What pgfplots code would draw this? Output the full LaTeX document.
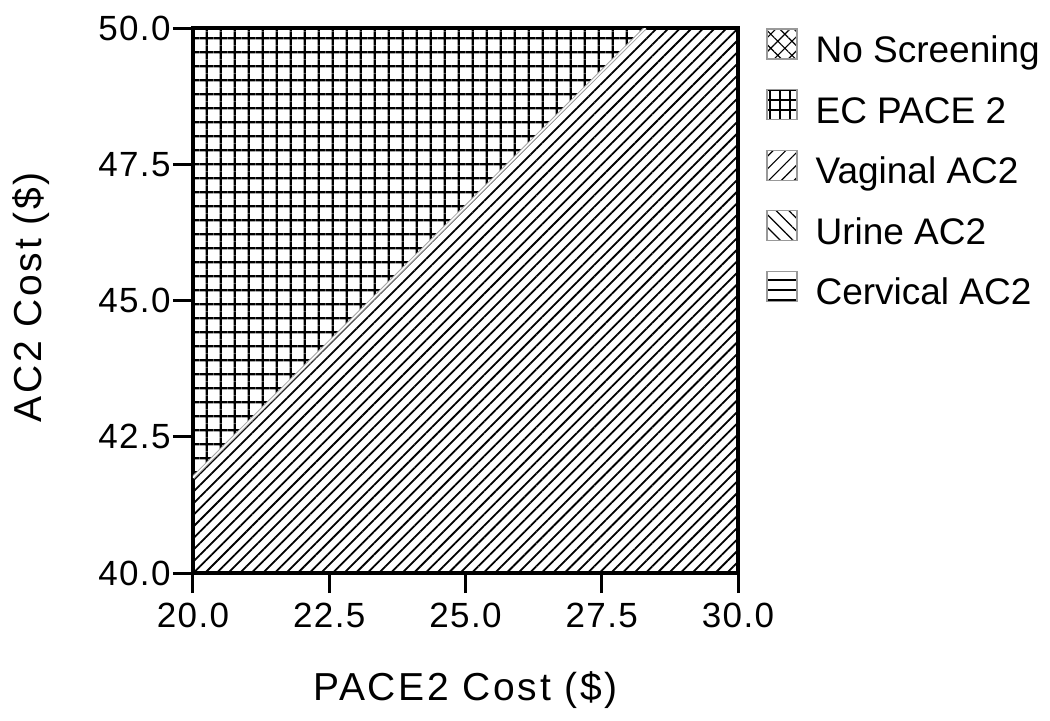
\documentclass[border=0pt]{standalone}
\usepackage{fontspec}
\setmainfont{Liberation Sans}
\usepackage{pgfplots}
\pgfplotsset{compat=1.18}
\usetikzlibrary{patterns.meta}
\begin{document}
\begin{tikzpicture}
\useasboundingbox (-96.5pt,-73.5pt) rectangle (428.5pt,286.5pt);
\begin{axis}[
  at={(0,0)}, anchor=south west,
  scale only axis, width=272.5pt, height=272.5pt,
  xmin=20, xmax=30, ymin=40, ymax=50,
  xtick={20,22.5,25,27.5,30}, ytick={40,42.5,45,47.5,50},
  xtick pos=bottom, ytick pos=left,
  tick align=outside, major tick length=10pt,
  tick style={line width=1.5pt, black},
  axis line style={line width=2pt},
  /pgf/number format/fixed,
  /pgf/number format/fixed zerofill,
  /pgf/number format/precision=1,
  /pgf/number format/assume math mode=true,
  tick label style={font=\fontsize{17.5}{20}\selectfont\addfontfeatures{LetterSpace=4}},
  xticklabel style={inner ysep=5pt},
  yticklabel style={inner xsep=1pt},
  label style={font=\fontsize{19.5}{23}\selectfont\addfontfeatures{LetterSpace=7}},
  xlabel={PACE2 Cost (\$)}, ylabel={AC2 Cost (\$)},
  xlabel style={at={(axis description cs:0.5,0)}, anchor=center, yshift=-58.5pt},
  ylabel style={at={(axis description cs:-0.297,0.506)}, anchor=center},
  legend style={at={(1,1)}, anchor=north west, xshift=14pt, draw=none, fill=none,
    inner sep=0pt, row sep=9.25pt, font=\fontsize{18.5}{22}\selectfont,
    nodes={inner xsep=9pt, inner ysep=0pt, text height=13.5pt, text depth=4pt}},
  legend cell align=left,
  legend image code/.code={\path[#1, draw=gray!80, line width=0.6pt] (0pt,-3pt) rectangle (15pt,12pt);},
]
\addlegendimage{pattern={Hatch[angle=45, distance=5pt, line width=0.6pt]}}
\addlegendentry{No Screening}
\addlegendimage{pattern={Hatch[angle=0, distance=5pt, line width=0.6pt]}}
\addlegendentry{EC PACE 2}
\addlegendimage{pattern={Lines[angle=45, distance=4.5pt, line width=0.6pt]}}
\addlegendentry{Vaginal AC2}
\addlegendimage{pattern={Lines[angle=-45, distance=4.5pt, line width=0.6pt]}}
\addlegendentry{Urine AC2}
\addlegendimage{pattern={Lines[angle=0, distance=5pt, line width=0.6pt]}}
\addlegendentry{Cervical AC2}

% EC PACE 2 region (upper left)
\addplot[draw=none, forget plot, pattern={Hatch[angle=0, distance=6.9pt, line width=1.2pt]}]
  coordinates {(20,41.75) (28.3,50) (20,50)} -- cycle;
% Vaginal AC2 region (lower right)
\addplot[draw=none, forget plot, pattern={Lines[angle=45, distance=4.1pt, line width=0.9pt]}]
  coordinates {(20,40) (30,40) (30,50) (28.3,50) (20,41.75)} -- cycle;
% boundary
\addplot[forget plot, draw=gray!70, double=white, double distance=0.7pt, line width=0.5pt]
  coordinates {(20,41.75) (28.3,50)};
\end{axis}
\end{tikzpicture}
\end{document}
